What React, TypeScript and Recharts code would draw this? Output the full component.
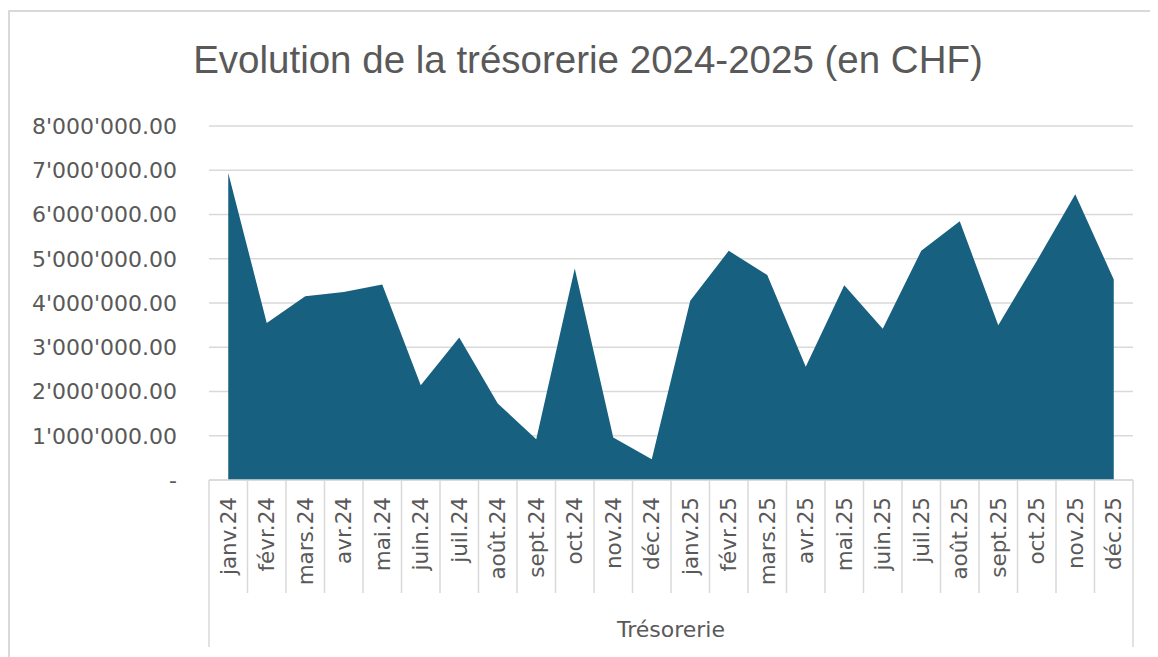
import { AreaChart, Area, XAxis, YAxis, CartesianGrid } from "recharts"

const months = [
  "janv.24", "févr.24", "mars.24", "avr.24", "mai.24", "juin.24",
  "juil.24", "août.24", "sept.24", "oct.24", "nov.24", "déc.24",
  "janv.25", "févr.25", "mars.25", "avr.25", "mai.25", "juin.25",
  "juil.25", "août.25", "sept.25", "oct.25", "nov.25", "déc.25",
]

const tresorerie = [
  6940000, 3550000, 4150000, 4250000, 4420000, 2140000,
  3220000, 1730000, 920000, 4780000, 960000, 470000,
  4050000, 5180000, 4630000, 2560000, 4400000, 3420000,
  5180000, 5850000, 3500000, 4950000, 6460000, 4530000,
]

const yTicks = [0, 1000000, 2000000, 3000000, 4000000, 5000000, 6000000, 7000000, 8000000]

const title = "Evolution de la trésorerie 2024-2025 (en CHF)"
const groupLabel = "Trésorerie"

const data = months.map((month, i) => ({ month, value: tresorerie[i] }))

const textColor = "#595959"
const lineColor = "#d9d9d9"

// swiss style: 8'000'000.00, zero shown as "-"
const formatChf = (v: number) => {
  if (v === 0) return "-"
  const int = Math.round(v).toString().replace(/\B(?=(\d{3})+$)/g, "'")
  return `${int}.00`
}

function MonthTick(props: any) {
  const { x, y, payload } = props
  const half = payload.offset || 19.25
  const first = payload.value === months[0]
  const last = payload.value === months[months.length - 1]
  const ty = y + 17
  return (
    <g>
      <line x1={x - half} x2={x - half} y1={y} y2={y + (first ? 167 : 113)} stroke={lineColor} strokeWidth={1.5} />
      {last && <line x1={x + half} x2={x + half} y1={y} y2={y + 167} stroke={lineColor} strokeWidth={1.5} />}
      <text
        x={x}
        y={ty}
        dy="0.35em"
        transform={`rotate(-90 ${x} ${ty})`}
        textAnchor="end"
        fill={textColor}
        fontSize={21.5}
        fontFamily="DejaVu Sans"
      >
        {payload.value}
      </text>
    </g>
  )
}

export default function App() {
  return (
    <div style={{ position: "relative", width: 1150, height: 649 }}>
      <div
        style={{
          position: "absolute",
          left: 0,
          top: 2,
          width: 1150,
          height: 647,
          borderTop: `2px solid ${lineColor}`,
          borderLeft: `2px solid ${lineColor}`,
          boxSizing: "border-box",
        }}
      />
      <div
        style={{
          position: "absolute",
          left: 10,
          top: 33,
          width: 1140,
          textAlign: "center",
          fontFamily: "Liberation Sans",
          fontSize: 38.5,
          lineHeight: "38px",
          color: textColor,
        }}
      >
        {title}
      </div>
      <AreaChart width={1150} height={649} data={data} margin={{ top: 118, right: 25, left: 11, bottom: 7 }}>
        <CartesianGrid vertical={false} stroke={lineColor} strokeWidth={1.5} />
        <XAxis
          dataKey="month"
          scale="band"
          height={170}
          interval={0}
          tickLine={false}
          tickSize={0}
          tickMargin={0}
          axisLine={{ stroke: lineColor, strokeWidth: 1.5 }}
          tick={<MonthTick />}
          label={{ value: groupLabel, position: "insideBottom", offset: 13, fill: textColor, fontSize: 22, fontFamily: "DejaVu Sans" }}
        />
        <YAxis
          domain={[0, 8000000]}
          ticks={yTicks}
          interval={0}
          width={190}
          axisLine={false}
          tickLine={false}
          tickSize={0}
          tickMargin={32}
          tickFormatter={formatChf}
          tick={{ fill: textColor, fontSize: 22, fontFamily: "DejaVu Sans" }}
        />
        <Area
          type="linear"
          dataKey="value"
          stroke="none"
          fill="#17607f"
          fillOpacity={1}
          dot={false}
          activeDot={false}
          isAnimationActive={false}
        />
      </AreaChart>
    </div>
  )
}
